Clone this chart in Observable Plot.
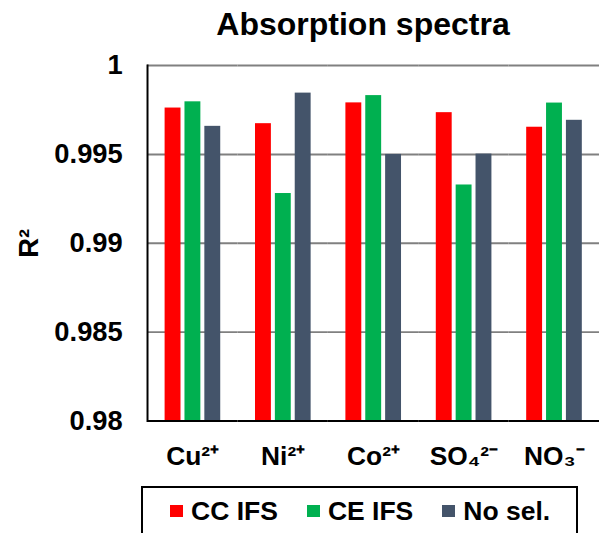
<!DOCTYPE html>
<html>
<head>
<meta charset="utf-8">
<script src="https://cdn.jsdelivr.net/npm/d3@7"></script>
<script src="https://cdn.jsdelivr.net/npm/@observablehq/plot@0.6"></script>
<style>
  html, body { margin: 0; padding: 0; background: #fff; overflow: hidden; }
  body { width: 599px; height: 533px; position: relative; font-family: "Liberation Sans", Arial, sans-serif; }
  #title { position: absolute; left: 163px; width: 400px; top: 6px; line-height: 36px; text-align: center; font-size: 32px; font-weight: bold; color: #000; }
  #chart { position: absolute; left: 0; top: 0; }
  #legend { position: absolute; left: 141px; top: 486px; width: 437px; height: 70px; border: 2px solid #000; box-sizing: border-box; display: flex; flex-wrap: nowrap; align-items: flex-start; padding-left: 27px; padding-top: 9px; }
  .item { display: flex; flex: 0 0 auto; white-space: nowrap; align-items: center; margin-right: 29px; font-size: 26.5px; font-weight: bold; line-height: 28px; color: #000; }
  .item:last-child { margin-right: 0; }
  .sw { flex: 0 0 auto; width: 13px; height: 12px; margin-right: 8px; }
</style>
</head>
<body>
<div id="title">Absorption spectra</div>
<div id="chart"></div>
<div id="legend"></div>
<script>
const categories = ["Cu²⁺", "Ni²⁺", "Co²⁺", "SO₄²⁻", "NO₃⁻"];
const series = ["CC IFS", "CE IFS", "No sel."];
const colors = ["#ff0000", "#00b050", "#44546a"];
const ccIfs = [0.99761, 0.99673, 0.99790, 0.99735, 0.99653];
const ceIfs = [0.99796, 0.99280, 0.99831, 0.99328, 0.99789];
const noSel = [0.99658, 0.99845, 0.99500, 0.99502, 0.99692];
const yTicks = [0.98, 0.985, 0.99, 0.995, 1];
const gridTicks = [0.985, 0.99, 0.995, 1];
const yBase = 0.98;

const valuesBySeries = [ccIfs, ceIfs, noSel];
const data = [];
categories.forEach((c, i) => {
  series.forEach((s, j) => {
    data.push({category: c, series: s, value: valuesBySeries[j][i]});
  });
});

const chart = Plot.plot({
  width: 603,
  height: 480,
  marginTop: 65.5,
  marginBottom: 56.7,
  marginLeft: 147.3,
  marginRight: 0,
  style: {
    fontFamily: "'Liberation Sans', Arial, sans-serif",
    fontSize: "26px",
    fontWeight: "bold",
    color: "#000",
    background: "transparent",
    overflow: "visible"
  },
  fx: {domain: categories, padding: 0, label: null},
  x: {domain: series, paddingInner: 0.2, paddingOuter: 0.875, axis: null},
  y: {domain: [0.98, 1], label: null},
  color: {domain: series, range: colors},
  marks: [
    Plot.gridY(gridTicks, {stroke: "#808080", strokeOpacity: 1, strokeWidth: 2}),
    Plot.barY(data, {fx: "category", x: "series", y1: yBase, y2: "value", fill: "series"}),
    Plot.ruleY([yBase], {stroke: "#000", strokeWidth: 2}),
    Plot.frame({anchor: "left", facetAnchor: "left", stroke: "#000", strokeWidth: 2}),
    Plot.axisY({
      ticks: yTicks,
      tickSize: 0,
      tickPadding: 25,
      fontSize: 27.5,
      tickFormat: d => String(+d.toFixed(3)),
      label: "R²",
      labelAnchor: "center",
      labelOffset: 130,
      labelArrow: "none"
    }),
    Plot.axisFx({anchor: "bottom", tickSize: 0, tickPadding: 25, fontSize: 26.5, label: null})
  ]
});
document.getElementById("chart").appendChild(chart);

const legend = document.getElementById("legend");
series.forEach((s, j) => {
  const item = document.createElement("div");
  item.className = "item";
  const sw = document.createElement("span");
  sw.className = "sw";
  sw.style.background = colors[j];
  const t = document.createElement("span");
  t.textContent = s;
  item.appendChild(sw);
  item.appendChild(t);
  legend.appendChild(item);
});
</script>
</body>
</html>
